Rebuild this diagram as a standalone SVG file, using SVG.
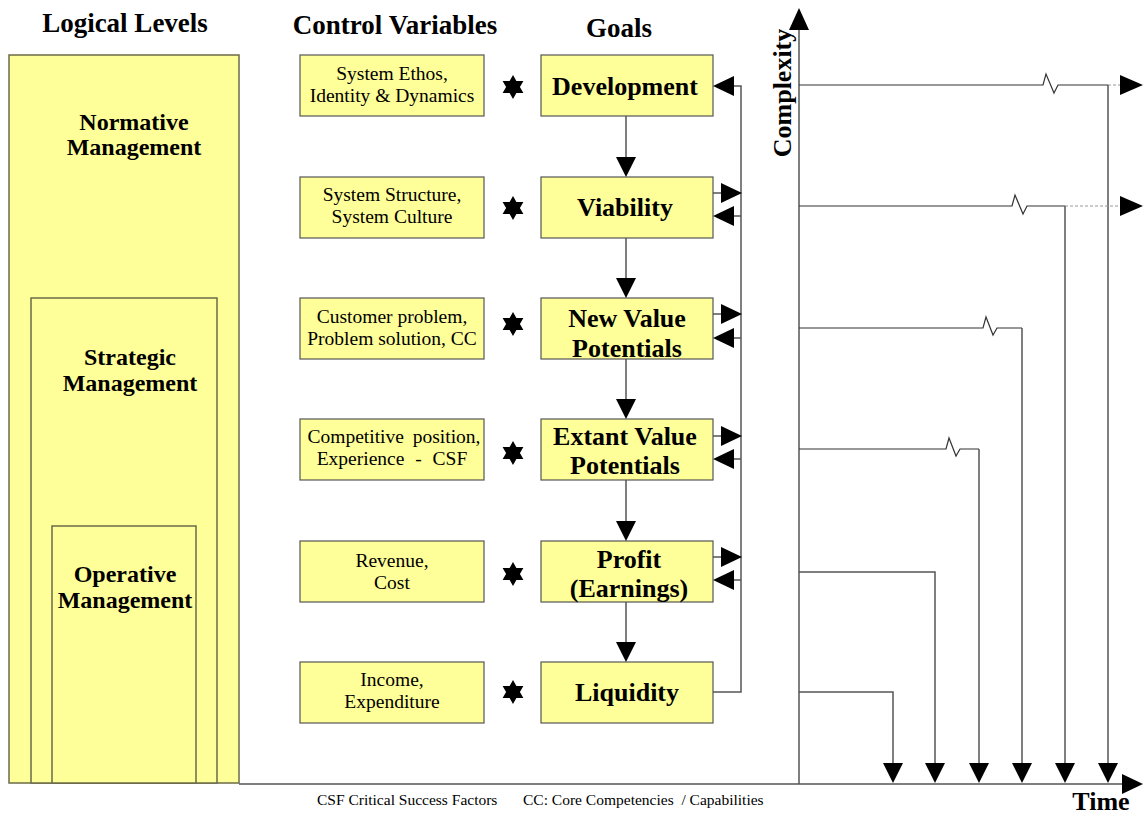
<svg xmlns="http://www.w3.org/2000/svg" width="1143" height="816" viewBox="0 0 1143 816">
<style>
.box{fill:#FFFF99;stroke:#555;stroke-width:1.2}
.lvl{fill:#FFFF99;stroke:#6b6b4a;stroke-width:1.5}
.h{font-size:27px;font-weight:bold;text-anchor:middle}
.g{font-size:26px;font-weight:bold;text-anchor:middle}
.c{font-size:19.5px;text-anchor:middle}
.l{font-size:24px;font-weight:bold;text-anchor:middle}
.ln{fill:none;stroke:#555;stroke-width:1.5}
.zz{fill:none;stroke:#333;stroke-width:1.2}
.ah{fill:#000}
</style>
<defs>
<polygon id="star" points="0,-12 3.4,-6 10.4,-6 6.9,0 10.4,6 3.4,6 0,12 -3.4,6 -10.4,6 -6.9,0 -10.4,-6 -3.4,-6" fill="#000"/>
<polygon id="adown" points="-10,-20 10,-20 0,0" fill="#000"/>
<polygon id="aleft" points="0,0 21,-10 21,10" fill="#000"/>
<polygon id="aright" points="0,0 -21,-10 -21,10" fill="#000"/>
</defs>
<g font-family="'Liberation Serif', 'Times New Roman', Times, serif" fill="#000">

<g id="titles">
<text class="h" x="125" y="32">Logical Levels</text>
<text class="h" x="395" y="34">Control Variables</text>
<text class="h" x="619" y="37">Goals</text>
</g>

<g id="level-normative">
<rect class="lvl" x="9" y="55" width="230" height="728"/>
<text class="l" x="134" y="130">Normative</text>
<text class="l" x="134" y="155">Management</text>
</g>
<g id="level-strategic">
<rect class="lvl" x="31" y="298" width="186" height="485"/>
<text class="l" x="130" y="365">Strategic</text>
<text class="l" x="130" y="391">Management</text>
</g>
<g id="level-operative">
<rect class="lvl" x="52" y="526" width="144" height="257"/>
<text class="l" x="125" y="582">Operative</text>
<text class="l" x="125" y="608">Management</text>
</g>

<g id="cv1"><rect class="box" x="300" y="55" width="184" height="61"/>
<text class="c" x="392" y="80">System Ethos,</text><text class="c" x="392" y="102">Identity &amp; Dynamics</text></g>
<g id="cv2"><rect class="box" x="300" y="177" width="184" height="61"/>
<text class="c" x="392" y="201">System Structure,</text><text class="c" x="392" y="223">System Culture</text></g>
<g id="cv3"><rect class="box" x="300" y="298" width="184" height="61"/>
<text class="c" x="392" y="323">Customer problem,</text><text class="c" x="392" y="345">Problem solution, CC</text></g>
<g id="cv4"><rect class="box" x="300" y="419" width="184" height="61"/>
<text class="c" x="394" y="443" word-spacing="4">Competitive position,</text><text class="c" x="392" y="465" word-spacing="6">Experience - CSF</text></g>
<g id="cv5"><rect class="box" x="300" y="541" width="184" height="61"/>
<text class="c" x="392" y="567">Revenue,</text><text class="c" x="392" y="589">Cost</text></g>
<g id="cv6"><rect class="box" x="300" y="662" width="184" height="61"/>
<text class="c" x="392" y="686">Income,</text><text class="c" x="392" y="708">Expenditure</text></g>

<g id="stars">
<use href="#star" x="513" y="87"/>
<use href="#star" x="513" y="208"/>
<use href="#star" x="513" y="324"/>
<use href="#star" x="513" y="453"/>
<use href="#star" x="513" y="574"/>
<use href="#star" x="513" y="692"/>
</g>

<g id="goal-development"><rect class="box" x="541" y="55" width="172" height="61"/>
<text class="g" x="625" y="95">Development</text></g>
<g id="goal-viability"><rect class="box" x="541" y="177" width="172" height="61"/>
<text class="g" x="625" y="216">Viability</text></g>
<g id="goal-newvalue"><rect class="box" x="541" y="298" width="172" height="61"/>
<text class="g" x="627" y="327">New Value</text><text class="g" x="627" y="357">Potentials</text></g>
<g id="goal-extant"><rect class="box" x="541" y="419" width="172" height="61"/>
<text class="g" x="625" y="445">Extant Value</text><text class="g" x="625" y="474">Potentials</text></g>
<g id="goal-profit"><rect class="box" x="541" y="541" width="172" height="61"/>
<text class="g" x="629" y="568">Profit</text><text class="g" x="629" y="597">(Earnings)</text></g>
<g id="goal-liquidity"><rect class="box" x="541" y="662" width="172" height="61"/>
<text class="g" x="627" y="701">Liquidity</text></g>

<g id="connectors">
<line class="ln" x1="626" y1="116" x2="626" y2="160"/><use href="#adown" x="626" y="177"/>
<line class="ln" x1="626" y1="238" x2="626" y2="281"/><use href="#adown" x="626" y="298"/>
<line class="ln" x1="626" y1="359" x2="626" y2="402"/><use href="#adown" x="626" y="419"/>
<line class="ln" x1="626" y1="480" x2="626" y2="524"/><use href="#adown" x="626" y="541"/>
<line class="ln" x1="626" y1="602" x2="626" y2="645"/><use href="#adown" x="626" y="662"/>
<polyline class="ln" points="713,692 741,692 741,86 730,86"/>
<use href="#aleft" x="713" y="86"/>
<line class="ln" x1="713" y1="193" x2="741" y2="193"/><use href="#aright" x="742" y="193"/>
<line class="ln" x1="730" y1="216" x2="741" y2="216"/><use href="#aleft" x="713" y="216"/>
<line class="ln" x1="713" y1="314" x2="741" y2="314"/><use href="#aright" x="742" y="314"/>
<line class="ln" x1="730" y1="338" x2="741" y2="338"/><use href="#aleft" x="713" y="338"/>
<line class="ln" x1="713" y1="436" x2="741" y2="436"/><use href="#aright" x="742" y="436"/>
<line class="ln" x1="730" y1="459" x2="741" y2="459"/><use href="#aleft" x="713" y="459"/>
<line class="ln" x1="713" y1="557" x2="741" y2="557"/><use href="#aright" x="742" y="557"/>
<line class="ln" x1="730" y1="580" x2="741" y2="580"/><use href="#aleft" x="713" y="580"/>

<line class="ln" x1="239" y1="784" x2="1125" y2="784"/>
<polygon class="ah" points="1143,784 1122,774 1122,794"/>
<line class="ln" x1="799" y1="784" x2="799" y2="26"/>
<polygon class="ah" points="799,8 789,30 809,30"/>

<polyline class="zz" points="799,85 1043,85 1046,74 1054,93 1058,85 1108,85"/>
<line x1="1108" y1="85" x2="1120" y2="85" stroke="#999" stroke-width="1.2" stroke-dasharray="3,2"/>
<polygon class="ah" points="1143,85 1120,75 1120,95"/>
<line class="ln" x1="1108" y1="85" x2="1108" y2="765"/><use href="#adown" x="1108" y="783"/>

<polyline class="zz" points="799,206 1012,206 1015,195 1023,214 1027,206 1065,206"/>
<line x1="1065" y1="206" x2="1120" y2="206" stroke="#999" stroke-width="1.2" stroke-dasharray="3,2"/>
<polygon class="ah" points="1143,206 1120,196 1120,216"/>
<line class="ln" x1="1065" y1="206" x2="1065" y2="765"/><use href="#adown" x="1065" y="783"/>

<polyline class="zz" points="799,328 983,328 986,317 993,335 997,328 1022,328"/>
<line class="ln" x1="1022" y1="328" x2="1022" y2="765"/><use href="#adown" x="1022" y="783"/>

<polyline class="zz" points="799,449 946,449 949,438 956,456 960,449 979,449"/>
<line class="ln" x1="979" y1="449" x2="979" y2="765"/><use href="#adown" x="979" y="783"/>

<polyline class="ln" points="799,572 935,572 935,765"/><use href="#adown" x="935" y="783"/>
<polyline class="ln" points="799,692 893,692 893,765"/><use href="#adown" x="893" y="783"/>
</g>

<g id="axis-labels">
<text font-size="26" font-weight="bold" text-anchor="middle" transform="translate(791,93) rotate(-90)">Complexity</text>
<text font-size="26" font-weight="bold" text-anchor="middle" x="1101" y="810">Time</text>
</g>

<g id="footnote">
<text font-size="15.5" x="317" y="805">CSF Critical Success Factors</text>
<text font-size="15.5" x="523" y="805" xml:space="preserve">CC: Core Competencies  / Capabilities</text>
</g>
</g>
</svg>
